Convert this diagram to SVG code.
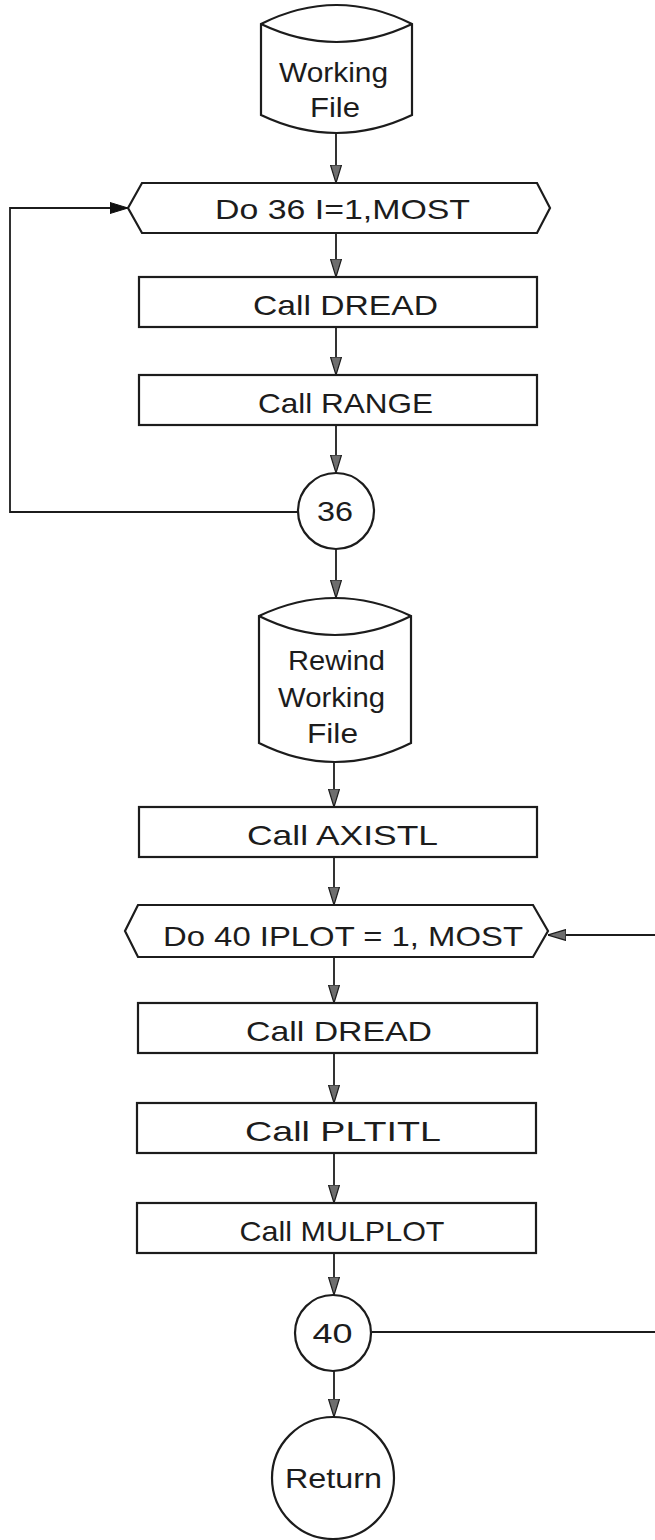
<svg xmlns="http://www.w3.org/2000/svg" width="655" height="1540" viewBox="0 0 655 1540">
<style>
.shape{fill:#fff;stroke:#1c1c1c;stroke-width:2.2;stroke-linejoin:miter}
.conn{fill:none;stroke:#1c1c1c;stroke-width:1.8}
.lbl{font-family:"Liberation Sans","DejaVu Sans",sans-serif;font-size:28px;fill:#1c1c1c;text-anchor:middle}
</style>
<defs>
<marker id="ah" viewBox="0 0 18 12" refX="18" refY="6" markerWidth="18" markerHeight="12" markerUnits="userSpaceOnUse" orient="auto">
<path d="M0,0.5 L18,6 L0,11.5 z" fill="#6e6e6e" stroke="#1c1c1c" stroke-width="1.2"/>
</marker>
<marker id="ahb" viewBox="0 0 18 12" refX="18" refY="6" markerWidth="18" markerHeight="12" markerUnits="userSpaceOnUse" orient="auto">
<path d="M0,0.5 L18,6 L0,11.5 z" fill="#111" stroke="#111" stroke-width="1"/>
</marker>
</defs>
<rect width="655" height="1540" fill="#fff"/>
<g id="connectors">
<path class="conn" d="M336,133 V183" marker-end="url(#ah)"/>
<path class="conn" d="M336,233 V277" marker-end="url(#ah)"/>
<path class="conn" d="M336,327 V375" marker-end="url(#ah)"/>
<path class="conn" d="M336,425 V473" marker-end="url(#ah)"/>
<path class="conn" d="M298,512 H10 V208 H128" marker-end="url(#ahb)"/>
<path class="conn" d="M336,549 V598" marker-end="url(#ah)"/>
<path class="conn" d="M334,762 V807" marker-end="url(#ah)"/>
<path class="conn" d="M334,857 V905" marker-end="url(#ah)"/>
<path class="conn" d="M334,957 V1003" marker-end="url(#ah)"/>
<path class="conn" d="M334,1053 V1103" marker-end="url(#ah)"/>
<path class="conn" d="M334,1153 V1203" marker-end="url(#ah)"/>
<path class="conn" d="M334,1253 V1295" marker-end="url(#ah)"/>
<path class="conn" d="M372,1332 H662 V935 H548" marker-end="url(#ah)"/>
<path class="conn" d="M334,1370 V1417" marker-end="url(#ah)"/>
</g>
<g id="working-file">
<path class="shape" d="M261,24 Q336.5,-14 412,24 V115 Q336.5,151 261,115 Z"/>
<path class="shape" fill="none" d="M261,24 Q336.5,60 412,24"/>
<text class="lbl" x="333.5" y="82" textLength="109" lengthAdjust="spacingAndGlyphs">Working</text>
<text class="lbl" x="335" y="117" textLength="50" lengthAdjust="spacingAndGlyphs">File</text>
</g>
<g id="do36">
<path class="shape" d="M128,208 L142,183 H537 L550,208 L537,233 H142 Z"/>
<text class="lbl" x="342.5" y="219" textLength="255" lengthAdjust="spacingAndGlyphs">Do 36  I=1,MOST</text>
</g>
<g id="dread1">
<rect class="shape" x="139" y="277" width="398" height="50"/>
<text class="lbl" x="345.5" y="315" textLength="185" lengthAdjust="spacingAndGlyphs">Call  DREAD</text>
</g>
<g id="range">
<rect class="shape" x="139" y="375" width="398" height="50"/>
<text class="lbl" x="345.5" y="413" textLength="175" lengthAdjust="spacingAndGlyphs">Call  RANGE</text>
</g>
<g id="c36">
<circle class="shape" cx="336" cy="511" r="38"/>
<text class="lbl" x="335" y="521" textLength="36" lengthAdjust="spacingAndGlyphs">36</text>
</g>
<g id="rewind">
<path class="shape" d="M259,616 Q335,580 411,616 V743 Q335,781 259,743 Z"/>
<path class="shape" fill="none" d="M259,616 Q335,654 411,616"/>
<text class="lbl" x="336.5" y="670" textLength="97" lengthAdjust="spacingAndGlyphs">Rewind</text>
<text class="lbl" x="331.5" y="707" textLength="107" lengthAdjust="spacingAndGlyphs">Working</text>
<text class="lbl" x="332.5" y="743" textLength="51" lengthAdjust="spacingAndGlyphs">File</text>
</g>
<g id="axistl">
<rect class="shape" x="139" y="807" width="398" height="50"/>
<text class="lbl" x="342.5" y="845" textLength="191" lengthAdjust="spacingAndGlyphs">Call  AXISTL</text>
</g>
<g id="do40">
<path class="shape" d="M125,931 L138,905 H533 L548,931 L533,957 H138 Z"/>
<text class="lbl" x="343" y="946" textLength="360" lengthAdjust="spacingAndGlyphs">Do  40  IPLOT = 1, MOST</text>
</g>
<g id="dread2">
<rect class="shape" x="138" y="1003" width="399" height="50"/>
<text class="lbl" x="339" y="1041" textLength="186" lengthAdjust="spacingAndGlyphs">Call  DREAD</text>
</g>
<g id="pltitl">
<rect class="shape" x="137" y="1103" width="399" height="50"/>
<text class="lbl" x="343" y="1141" textLength="196" lengthAdjust="spacingAndGlyphs">Call  PLTITL</text>
</g>
<g id="mulplot">
<rect class="shape" x="137" y="1203" width="399" height="50"/>
<text class="lbl" x="342" y="1241" textLength="205" lengthAdjust="spacingAndGlyphs">Call  MULPLOT</text>
</g>
<g id="c40">
<circle class="shape" cx="333" cy="1333" r="38"/>
<text class="lbl" x="332.5" y="1343" textLength="40" lengthAdjust="spacingAndGlyphs">40</text>
</g>
<g id="return">
<circle class="shape" cx="333" cy="1478" r="61"/>
<text class="lbl" x="333.5" y="1488" textLength="97" lengthAdjust="spacingAndGlyphs">Return</text>
</g>
</svg>
